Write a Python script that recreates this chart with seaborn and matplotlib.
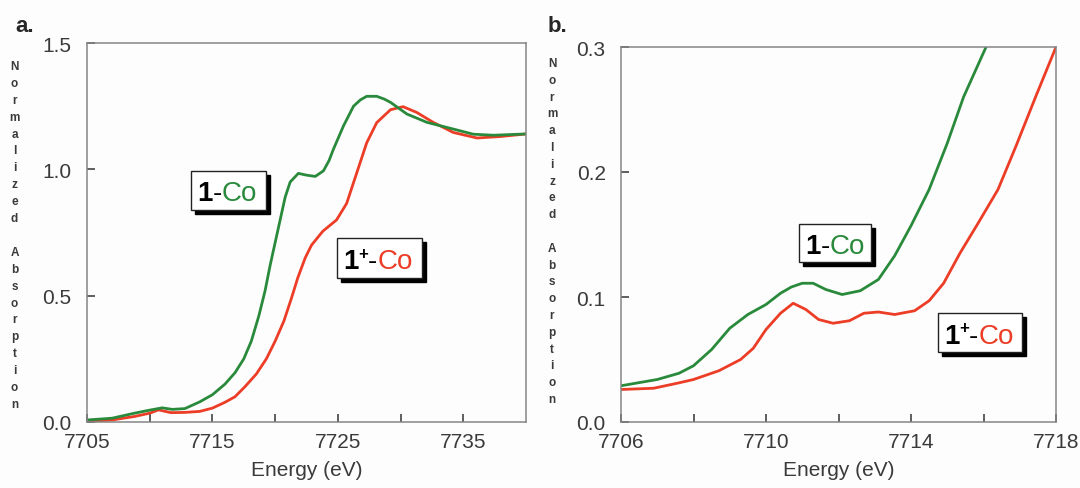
import numpy as np
import pandas as pd
import matplotlib.pyplot as plt
import seaborn as sns
from matplotlib.patches import Rectangle

# ==============================
# Data
# ==============================

# panel a - full edge
energy_a_green = [7705, 7707, 7708.8, 7710, 7711, 7711.8, 7712.8, 7714, 7715, 7716,
                  7716.8, 7717.5, 7718.1, 7718.7, 7719.2, 7719.6, 7720.0, 7720.4,
                  7720.8, 7721.2, 7721.85, 7722.5, 7723.2, 7723.85, 7724.3, 7724.65,
                  7725.45, 7726.25, 7726.8, 7727.3, 7728.1, 7728.7, 7729.2, 7730.5,
                  7732.1, 7734.0, 7735.8, 7737.4, 7740]
abs_a_green = [0.008, 0.015, 0.035, 0.047, 0.056, 0.05, 0.053, 0.08, 0.108, 0.15,
               0.195, 0.25, 0.32, 0.42, 0.52, 0.62, 0.71, 0.80,
               0.89, 0.95, 0.984, 0.977, 0.972, 0.994, 1.035, 1.08,
               1.172, 1.25, 1.275, 1.289, 1.289, 1.278, 1.265, 1.219,
               1.186, 1.162, 1.139, 1.135, 1.14]

energy_a_red = [7705, 7707, 7708.8, 7710, 7710.7, 7711.7, 7712.8, 7714, 7715, 7716,
                7716.8, 7717.6, 7718.5, 7719.3, 7720.0, 7720.7, 7721.3, 7721.8,
                7722.4, 7722.9, 7723.8, 7724.9, 7725.7, 7726.5, 7727.3, 7728.1,
                7729.2, 7730.2, 7731.3, 7732.6, 7734.2, 7736.1, 7738, 7740]
abs_a_red = [0.003, 0.008, 0.022, 0.035, 0.048, 0.037, 0.038, 0.042, 0.055, 0.078,
             0.10, 0.14, 0.19, 0.25, 0.32, 0.40, 0.49, 0.57,
             0.65, 0.70, 0.755, 0.80, 0.865, 0.985, 1.105, 1.185,
             1.236, 1.248, 1.225, 1.186, 1.146, 1.124, 1.13, 1.14]

# panel b - pre-edge region
energy_b_green = [7706, 7707, 7707.6, 7708, 7708.5, 7709, 7709.5, 7710, 7710.4, 7710.7,
                  7711, 7711.3, 7711.65, 7712.1, 7712.6, 7713.1, 7713.55, 7714.0,
                  7714.5, 7715, 7715.45, 7716.07]
abs_b_green = [0.029, 0.034, 0.039, 0.045, 0.058, 0.075, 0.086, 0.094, 0.103, 0.108,
               0.111, 0.111, 0.106, 0.102, 0.105, 0.114, 0.133, 0.157,
               0.186, 0.223, 0.26, 0.30]

energy_b_red = [7706, 7706.9, 7707.55, 7708, 7708.7, 7709.3, 7709.65, 7710, 7710.4,
                7710.75, 7711.1, 7711.45, 7711.85, 7712.3, 7712.7, 7713.1, 7713.55,
                7714.1, 7714.5, 7714.9, 7715.35, 7715.85, 7716.4, 7716.9, 7717.45, 7718]
abs_b_red = [0.026, 0.027, 0.031, 0.034, 0.041, 0.050, 0.059, 0.074, 0.087,
             0.095, 0.090, 0.082, 0.079, 0.081, 0.087, 0.088, 0.086,
             0.089, 0.097, 0.111, 0.135, 0.159, 0.186, 0.221, 0.261, 0.30]

green = '#2a8a3c'
red = '#ec3d26'
spine_grey = '#858585'
tick_dark = '#333333'
text_grey = '#3a3a3a'

# ==============================
# Figure
# ==============================

sns.set_style('ticks')
plt.rcParams['font.family'] = ['Liberation Sans', 'DejaVu Sans']

W, H = 1080, 489
fig = plt.figure(figsize=(W / 100, H / 100), dpi=100)
fig.patch.set_facecolor('#fdfdfd')


def px_rect(x0, y0, x1, y1):
    # pixel box (top-left origin) -> figure fraction [left, bottom, w, h]
    return [x0 / W, 1 - y1 / H, (x1 - x0) / W, (y1 - y0) / H]


ax_a = fig.add_axes(px_rect(87, 44, 526, 423))
ax_b = fig.add_axes(px_rect(621, 48, 1056, 423))

df_a = pd.concat([
    pd.DataFrame({'E': energy_a_green, 'A': abs_a_green, 's': '1-Co'}),
    pd.DataFrame({'E': energy_a_red, 'A': abs_a_red, 's': '1+-Co'}),
])
df_b = pd.concat([
    pd.DataFrame({'E': energy_b_green, 'A': abs_b_green, 's': '1-Co'}),
    pd.DataFrame({'E': energy_b_red, 'A': abs_b_red, 's': '1+-Co'}),
])

pal = {'1-Co': green, '1+-Co': red}
for ax, df in ((ax_a, df_a), (ax_b, df_b)):
    sns.lineplot(data=df, x='E', y='A', hue='s', palette=pal, sort=False,
                 linewidth=2.0, legend=False, ax=ax, hue_order=['1+-Co', '1-Co'])
    for ln in ax.lines:
        ln.set_solid_joinstyle('round')
        ln.set_solid_capstyle('round')

ax_a.set_xlim(7705, 7740)
ax_a.set_ylim(0, 1.5)
ax_a.set_xticks([7705, 7715, 7725, 7735])
ax_a.set_xticks([7710, 7720, 7730], minor=True)
ax_a.set_yticks([0.0, 0.5, 1.0, 1.5])
ax_a.set_yticklabels(['0.0', '0.5', '1.0', '1.5'])

ax_b.set_xlim(7706, 7718)
ax_b.set_ylim(0, 0.3)
ax_b.set_xticks([7706, 7710, 7714, 7718])
ax_b.set_xticks([7708, 7712, 7716], minor=True)
ax_b.set_yticks([0.0, 0.1, 0.2, 0.3])
ax_b.set_yticklabels(['0.0', '0.1', '0.2', '0.3'])

for ax in (ax_a, ax_b):
    ax.set_facecolor('#fdfdfd')
    for sp in ax.spines.values():
        sp.set_visible(True)
        sp.set_color(spine_grey)
        sp.set_linewidth(1.1)
    ax.tick_params(which='both', direction='in', length=5.5, width=1.1,
                   color=tick_dark, labelsize=15, labelcolor=text_grey)
    ax.tick_params(axis='x', which='major', pad=7)
    ax.tick_params(axis='y', which='major', pad=11)
    ax.set_xlabel('Energy (eV)', fontsize=15, color=text_grey, labelpad=7)
    ax.set_ylabel('')

# stacked y-axis label
label = 'Normalized Absorption'
for x0, ytop, ybot in ((14.5, 67, 405), (552, 64, 400)):
    step = (ybot - ytop) / (len(label) - 1)
    for i, ch in enumerate(label):
        fig.text(x0 / W, 1 - (ytop + i * step) / H, ch, fontsize=8.5,
                 fontweight='bold', color=text_grey, ha='center', va='center')

# panel letters
fig.text(15 / W, 1 - 32 / H, 'a.', fontsize=16, fontweight='bold', va='baseline')
fig.text(548 / W, 1 - 32 / H, 'b.', fontsize=16, fontweight='bold', va='baseline')


# ==============================
# Boxed labels with drop shadow
# ==============================

def boxed_label(ax, box, color, plus):
    x0, y0, x1, y1 = box
    sh = 4
    ax.add_patch(Rectangle(((x0 + sh) / W, 1 - (y1 + sh) / H),
                           (x1 - x0) / W, (y1 - y0) / H,
                           transform=fig.transFigure, facecolor='black',
                           edgecolor='black', zorder=5, clip_on=False))
    ax.add_patch(Rectangle((x0 / W, 1 - y1 / H), (x1 - x0) / W, (y1 - y0) / H,
                           transform=fig.transFigure, facecolor='white',
                           edgecolor='#222222', linewidth=1.0, zorder=6,
                           clip_on=False))
    base = 1 - ((y0 + y1) / 2 + 10) / H
    t = ax.text((x0 + 6) / W, base, '1', fontsize=20, fontweight='bold',
                color='black', va='baseline', ha='left', zorder=7,
                transform=fig.transFigure, clip_on=False)
    if plus:
        t = ax.annotate('+', xy=(1, base + 10 / H), xycoords=(t, 'figure fraction'),
                        fontsize=12, fontweight='bold', color='black',
                        va='baseline', ha='left', annotation_clip=False, zorder=7)
    t = ax.annotate('-', xy=(1, base), xycoords=(t, 'figure fraction'),
                    fontsize=20, color='black', va='baseline', ha='left',
                    annotation_clip=False, zorder=7)
    ax.annotate('Co', xy=(1, base), xycoords=(t, 'figure fraction'),
                fontsize=20, color=color, va='baseline', ha='left',
                annotation_clip=False, zorder=7)


boxed_label(ax_a, (191, 172, 266, 211), green, False)
boxed_label(ax_a, (337, 239, 422, 279), red, True)
boxed_label(ax_b, (799, 225, 871, 263), green, False)
boxed_label(ax_b, (938, 314, 1022, 353), red, True)

plt.savefig('out.png', dpi=100, facecolor=fig.get_facecolor())
